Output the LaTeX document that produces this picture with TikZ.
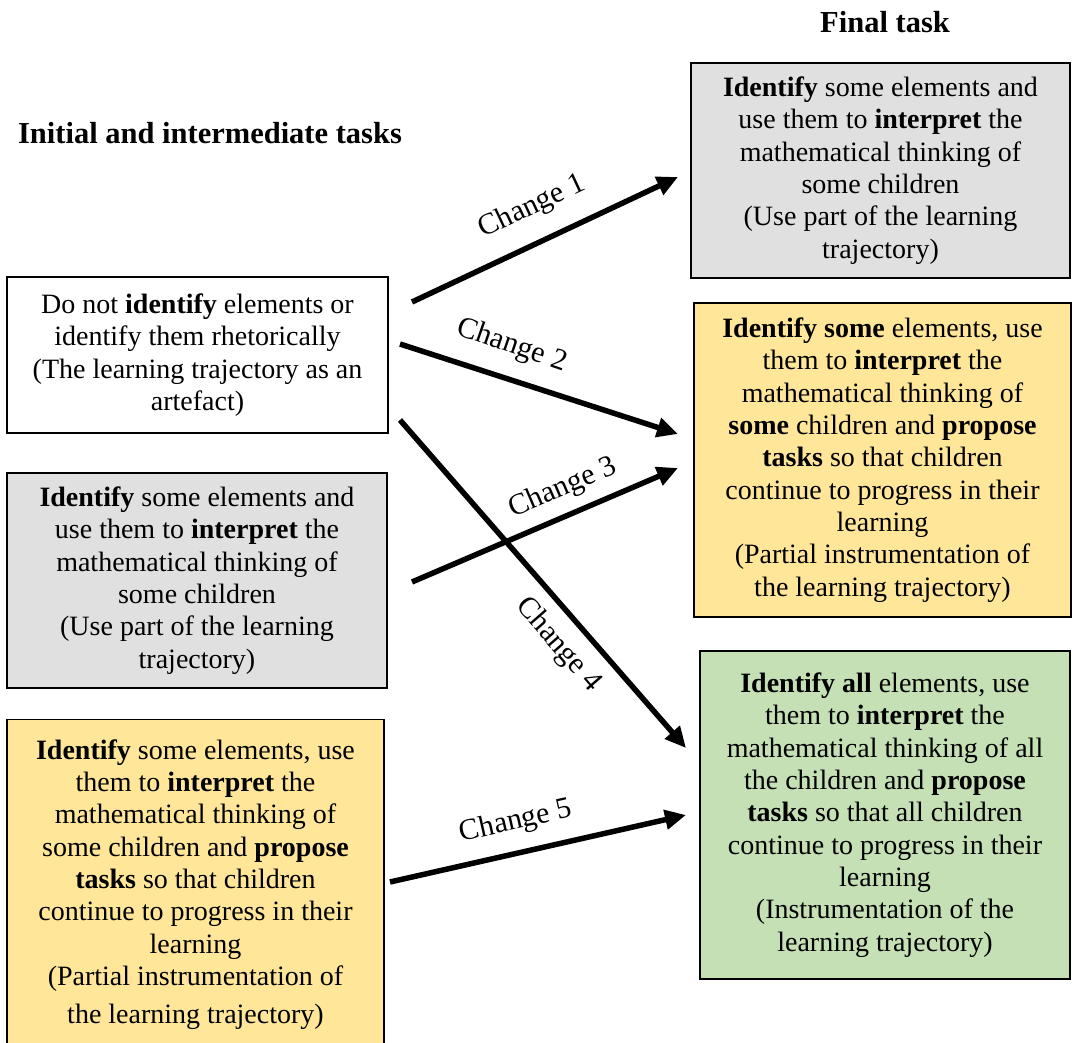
\documentclass[tikz,border=0pt]{standalone}
\usepackage{fontspec}
\setmainfont{Liberation Serif}
\usepackage{xcolor}
\usepackage{tikz}
\usetikzlibrary{calc, positioning, arrows.meta}

\definecolor{taskgray}{RGB}{224,224,224}
\definecolor{taskyellow}{RGB}{255,230,153}
\definecolor{taskgreen}{RGB}{197,224,180}

\begin{document}
\begin{tikzpicture}[
			x=1pt, y=-1pt,
			>={Triangle[length=21pt, width=19pt]},
			taskbox/.style={draw, line width=1.3pt, rectangle, align=center, inner sep=0pt, font=\fontsize{28}{32.3}\selectfont},
			change/.style={->, line width=5.5pt},
			changelabel/.style={inner sep=0pt, font=\fontsize{30}{32}\selectfont},
			title/.style={inner sep=0pt, font=\fontsize{30.5}{32}\selectfont\bfseries}
		]
		\useasboundingbox (0,0) rectangle (1072,1043);

		% titles
		\node[title] (final) at (885,22) {Final task};
		\node[title] (initial) at (210,133) {Initial and intermediate tasks};

		% initial and intermediate tasks
		\node[taskbox, minimum width=381, minimum height=156] (rhet) at (197.5,355)
			{Do not \textbf{identify} elements or\\identify them rhetorically\\(The learning trajectory as an\\artefact)};
		\node[taskbox, fill=taskgray, minimum width=380, minimum height=215] (part) at (197,580.5)
			{\textbf{Identify} some elements and\\use them to \textbf{interpret} the\\mathematical thinking of\\some children\\(Use part of the learning\\trajectory)};
		\node[taskbox, fill=taskyellow, minimum width=377, minimum height=330, anchor=north] (partinst) at (195.5,719)
			{\textbf{Identify} some elements, use\\them to \textbf{interpret} the\\mathematical thinking of\\some children and \textbf{propose}\\\textbf{tasks} so that children\\continue to progress in their\\learning\\(Partial instrumentation of\\[6pt]the learning trajectory)};

		% final task
		\node[taskbox, fill=taskgray, minimum width=379, minimum height=215] (fpart) at (880.5,170.5)
			{\textbf{Identify} some elements and\\use them to \textbf{interpret} the\\mathematical thinking of\\some children\\(Use part of the learning\\trajectory)};
		\node[taskbox, fill=taskyellow, minimum width=377, minimum height=314] (fpartinst) at (882.5,460)
			{\textbf{Identify some} elements, use\\them to \textbf{interpret} the\\mathematical thinking of\\\textbf{some} children and \textbf{propose}\\\textbf{tasks} so that children\\continue to progress in their\\learning\\(Partial instrumentation of\\the learning trajectory)};
		\node[taskbox, fill=taskgreen, minimum width=370, minimum height=328] (finst) at (885,815)
			{\textbf{Identify all} elements, use\\them to \textbf{interpret} the\\mathematical thinking of all\\the children and \textbf{propose}\\\textbf{tasks} so that all children\\continue to progress in their\\learning\\(Instrumentation of the\\learning trajectory)};

		% arrow ends
		\coordinate (c1s) at (412,302);
		\coordinate (c1e) at (678,177);
		\coordinate (c2s) at (400,344);
		\coordinate (c2e) at (678,434);
		\coordinate (c3s) at (412,582);
		\coordinate (c3e) at (678,468);
		\coordinate (c4s) at (400,420);
		\coordinate (c4e) at (686,748);
		\coordinate (c5s) at (390,882);
		\coordinate (c5e) at (686,815);

		\draw[change] (c1s) -- (c1e);
		\draw[change] (c2s) -- (c2e);
		\draw[change] (c3s) -- (c3e);
		\draw[change] (c4s) -- (c4e);
		\draw[change] (c5s) -- (c5e);

		\node[changelabel, rotate=25.2] (lab1) at (532,207) {Change 1};
		\node[changelabel, rotate=-19] (lab2) at (512,346) {Change 2};
		\node[changelabel, rotate=23.2] (lab3) at (563,488) {Change 3};
		\node[changelabel, rotate=-48.9] (lab4) at (558,645) {Change 4};
		\node[changelabel, rotate=12.8] (lab5) at (516,822) {Change 5};
	\end{tikzpicture}
\end{document}
